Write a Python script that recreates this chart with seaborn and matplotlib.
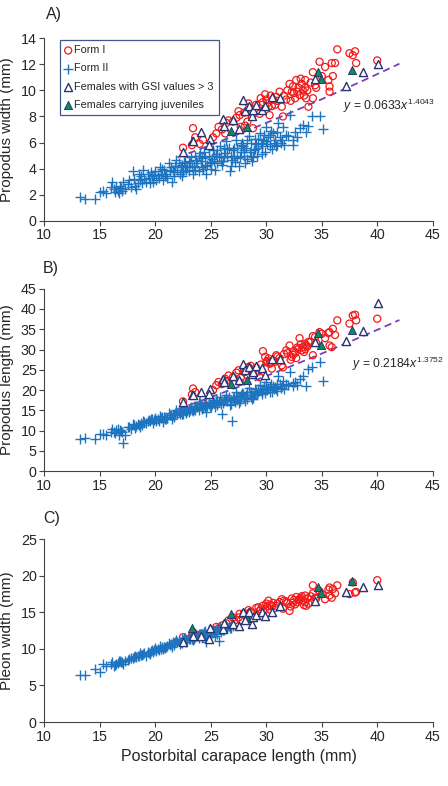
import numpy as np
import pandas as pd
import matplotlib
matplotlib.use("Agg")
import matplotlib.pyplot as plt
import seaborn as sns

nan = np.nan

# Form II males: postorbital carapace length, propodus width (A), propodus length (B), pleon width (C)
form2_x = [13.2, 13.7, 14.6, 15.0, 15.3, 16.1, 16.4, 16.5, 16.7, 17.1, 17.3, 18.0, 18.2, 18.3, 18.9,
           18.6, 19.2, 19.7, 19.8, 20.0, 20.3, 20.4, 20.7, 21.0, 21.2, 21.5, 21.6, 21.9, 22.2, 22.4,
           22.7, 22.8, 23.1, 23.4, 23.7, 24.0, 24.2, 24.5, 24.6, 24.9, 25.2, 25.4, 25.7, 25.8, 26.0,
           26.3, 26.4, 26.7, 26.9, 27.0, 27.3, 27.6, 27.9, 28.1, 28.4, 28.5, 28.8, 29.1, 29.4, 29.7,
           29.9, 30.0, 30.3, 30.6, 30.9, 31.1, 31.2, 31.5, 31.8, 32.1, 32.4, 32.4, 33.0, 33.3, 33.6,
           33.8, 34.1, 34.8, 35.1,
           16.3, 16.6, 16.9, 17.5, 17.8, 18.1, 18.4, 18.7, 19.0, 19.3, 19.5, 19.9, 20.1, 20.5, 20.8,
           21.1, 21.3, 21.7, 21.8, 22.0, 22.3, 22.5, 22.6, 22.9, 23.0, 23.2, 23.5, 23.6, 23.8, 23.9,
           24.1, 24.3, 24.4, 24.7, 24.8, 25.0, 25.1, 25.3, 25.5, 25.6, 25.9, 26.1, 26.2, 26.5, 26.6,
           26.8, 27.1, 27.2, 27.4, 27.5, 27.7, 27.8, 28.0, 28.2, 28.3, 28.6, 28.7, 28.9, 29.0, 29.2,
           29.3, 29.5, 29.6, 29.8, 30.1, 30.2, 30.4, 30.5, 30.8, 31.0, 31.3, 31.6, 32.0, 32.6, 32.8,
           19.4, 19.6, 20.2, 20.6, 20.9, 21.4, 21.7, 22.1, 22.4, 22.7, 23.0, 23.3, 23.6, 23.9, 24.2,
           24.5, 24.8, 25.0, 25.3, 25.6, 25.9, 26.2, 26.5, 26.8, 27.1, 27.4, 27.7, 28.0, 28.3, 28.6,
           29.0, 29.3, 29.6, 30.0, 30.3, 30.7, 31.0, 31.4, 15.6, 16.0, 16.8, 17.0, 17.6, 18.5, 18.8]
form2_a = [1.8, 1.7, 1.7, 2.2, 2.3, 3.0, 2.2, 2.6, 2.1, 3.0, 2.4, 3.8, 2.7, 2.4, 3.9,
           3.1, 3.0, 3.4, 3.0, 3.8, 3.25, 4.1, 3.1, 3.6, 4.4, 3.0, 3.9, 4.65, 3.6, 4.3,
           5.0, 3.9, 4.4, 3.6, 4.65, 5.2, 4.1, 4.9, 3.6, 4.4, 5.4, 3.9, 4.9, 5.7, 4.3,
           5.2, 6.1, 3.8, 4.65, 5.4, 6.2, 4.9, 5.7, 4.4, 6.5, 5.3, 4.9, 5.9, 6.7, 6.2,
           5.3, 7.2, 5.7, 6.7, 5.7, 7.5, 6.45, 7.2, 6.6, 8.1, 6.2, 5.8, 7.1, 7.35, 6.8,
           7.3, 8.0, 8.0, 7.0,
           2.4, 2.3, 2.5, 2.8, 2.6, 3.2, 2.9, 3.4, 3.2, 3.6, 2.9, 3.5, 3.1, 3.6, 3.9,
           3.3, 3.8, 3.4, 4.2, 3.9, 4.1, 3.7, 4.5, 4.2, 3.8, 4.9, 4.2, 3.9, 4.4, 5.0,
           4.6, 4.0, 5.3, 4.3, 5.0, 4.0, 4.7, 4.6, 5.1, 4.4, 5.0, 4.6, 5.6, 4.9, 5.6,
           4.2, 5.0, 4.5, 5.6, 4.2, 5.3, 6.0, 5.0, 5.6, 4.7, 6.0, 4.6, 5.4, 6.3, 5.0,
           5.6, 6.0, 5.1, 6.6, 5.9, 6.4, 6.9, 5.5, 6.2, 5.8, 6.0, 5.8, 6.5, 6.8, 6.4,
           3.3, 3.7, 3.5, 4.0, 3.4, 4.1, 3.7, 4.4, 3.4, 4.1, 4.6, 4.1, 5.0, 3.8, 4.8,
           4.2, 5.6, 4.5, 5.0, 5.4, 4.6, 4.9, 5.5, 5.0, 5.6, 4.8, 5.8, 5.4, 6.2, 5.0,
           5.5, 6.3, 5.7, 6.1, 6.6, 6.0, 6.8, 6.2, 2.1, 2.6, 2.7, 2.3, 3.1, 3.6, 2.9]
form2_b = [8.0, 8.1, 8.0, 9.2, 9.3, 10.3, 9.5, 10.1, 9.0, 7.0, 8.9, 11.6, 10.6, 11.2, 12.5,
           11.0, 12.0, 12.8, 11.8, 13.2, 12.5, 13.6, 12.2, 13.0, 14.3, 12.9, 13.9, 15.1, 14.0, 15.0,
           15.6, 14.3, 15.2, 14.8, 16.2, 16.9, 15.3, 16.6, 14.5, 16.1, 17.5, 15.8, 17.0, 18.2, 14.0,
           17.6, 18.9, 16.4, 12.3, 18.1, 19.6, 17.4, 19.0, 17.2, 20.6, 18.7, 18.1, 19.8, 21.3, 20.4,
           19.2, 22.0, 19.6, 21.0, 20.2, 23.4, 21.5, 22.2, 21.6, 24.4, 21.8, 20.9, 22.8, 23.5, 21.0,
           25.2, 25.8, 26.9, 22.2,
           9.8, 10.4, 9.9, 10.8, 10.5, 11.3, 11.7, 11.9, 12.1, 12.4, 12.3, 12.7, 12.4, 13.1, 13.4,
           13.1, 13.8, 13.5, 14.4, 14.2, 14.6, 14.1, 15.2, 14.8, 14.6, 15.8, 15.4, 15.0, 15.9, 16.5,
           16.0, 15.6, 16.8, 16.0, 16.7, 15.9, 16.5, 16.9, 17.2, 16.4, 17.3, 16.8, 17.9, 17.3, 18.3,
           16.6, 17.8, 17.0, 18.6, 16.9, 18.3, 19.3, 18.0, 18.9, 17.7, 19.6, 17.9, 18.8, 20.2, 18.9,
           19.5, 20.1, 19.0, 20.9, 20.0, 20.6, 21.4, 19.6, 20.7, 19.9, 20.6, 20.3, 21.3, 22.1, 21.2,
           12.6, 12.9, 12.9, 13.5, 13.0, 13.9, 13.8, 14.6, 14.2, 14.9, 15.4, 15.0, 16.1, 15.2, 16.2,
           15.8, 17.1, 16.3, 16.8, 17.6, 16.6, 17.2, 17.9, 17.5, 18.4, 17.6, 18.8, 18.4, 19.6, 18.3,
           19.2, 20.3, 19.6, 20.2, 20.8, 20.4, 21.4, 20.9, 9.0, 9.6, 10.2, 9.7, 11.0, 11.5, 11.3]
form2_c = [6.4, 6.5, 7.3, 6.9, 7.9, 8.2, 7.8, 8.0, 8.3, 8.0, 8.4, 8.8, 9.0, 8.9, 9.3,
           9.5, 9.1, 9.8, 9.6, 10.1, 9.9, 10.4, 10.0, 10.3, 10.8, 10.2, 10.9, 11.2, 10.7, 11.3,
           11.5, 11.0, 11.4, 11.2, 11.9, 12.1, 11.6, 12.4, 11.0, 12.2, 12.6, 11.8, 11.1, 13.0, 12.7,
           12.9, 13.3, 12.8, nan, 13.2, nan, nan, nan, nan, nan, nan, nan, nan, nan, nan,
           nan, nan, nan, nan, nan, nan, nan, nan, nan, nan, nan, nan, nan, nan, nan,
           nan, nan, nan, nan,
           7.6, 8.1, 8.2, 8.5, 8.7, 8.9, 9.1, 9.2, 9.4, 9.6, 9.3, 9.9, 9.7, 10.0, 10.3,
           10.4, 10.6, 10.5, 10.9, 11.0, 10.9, 11.2, 11.5, 11.2, 11.3, 11.7, 11.4, 11.6, 11.8, 12.0,
           12.0, 11.7, 12.3, 11.9, 12.4, 11.6, 12.5, 12.3, 12.5, 12.1, 12.7, 12.6, 13.0, 12.8, 13.1,
           12.9, nan, nan, nan, nan, nan, nan, nan, nan, nan, nan, nan, nan, nan, nan,
           nan, nan, nan, nan, nan, nan, nan, nan, nan, nan, nan, nan, nan, nan, nan,
           9.5, 9.7, 10.0, 10.2, 10.1, 10.7, 10.8, 11.1, 10.8, 11.2, 11.5, 11.3, 11.9, 11.5, 12.0,
           11.8, 12.6, 12.2, 12.4, 12.8, 12.3, 12.6, 13.0, nan, nan, nan, nan, nan, nan, nan,
           nan, nan, nan, nan, nan, nan, nan, nan, 7.7, 7.9, 8.4, 8.2, 8.6, 9.0, 9.2]

# Form I males
form1_x = [22.5, 23.3, 23.4, 23.6, 24.0, 24.3, 25.2, 25.5, 25.7, 26.0, 26.3, 26.4, 26.6, 27.5, 27.6,
           27.7, 28.1, 28.4, 28.7, 28.8, 29.3, 29.4, 29.7, 29.9, 30.0, 30.2, 30.3, 30.5, 30.6, 30.9,
           31.2, 31.4, 31.5, 31.8, 32.1, 32.3, 32.4, 32.6, 32.7, 32.9, 33.0, 33.2, 33.3, 33.4, 33.5,
           33.5, 33.6, 33.8, 34.2, 34.2, 34.4, 34.5, 34.8, 35.0, 35.3, 35.6, 35.7, 35.7, 35.9, 36.0,
           36.2, 36.4, 37.5, 37.8, 38.0, 38.1, 40.0,
           29.1, 29.5, 30.1, 30.4, 30.8, 31.0, 31.6, 31.9, 32.2, 32.5, 32.8, 33.1, 33.7, 34.0, 27.0,
           27.3, 28.0, 28.3, 28.6]
form1_a = [5.6, 5.8, 7.1, 6.4, 5.9, 6.2, 6.4, 6.7, 7.2, 7.0, 6.7, 7.5, 7.7, 8.4, 8.1,
           7.2, 7.3, 9.0, 8.0, 7.1, 8.5, 8.2, 9.1, 9.7, 9.3, 8.75, 8.1, 8.8, 9.3, 9.5,
           9.9, 8.75, 8.0, 9.3, 10.5, 9.9, 10.3, 9.4, 10.8, 10.2, 9.65, 10.5, 10.0, 9.6, 10.8,
           10.2, 9.4, 8.75, 9.4, 11.4, 10.4, 10.2, 12.2, 11.1, 11.8, 10.8, 10.3, 9.9, 12.1, 11.1,
           12.1, 13.15, 12.85, 12.7, 13.0, 12.1, 12.3,
           8.9, 9.4, 9.0, 9.6, 8.9, 9.2, 9.6, 10.0, 9.2, 9.8, 9.9, 10.9, 10.0, 10.6, 7.6,
           7.9, 8.3, 7.6, 8.6]
form1_b = [17.2, 18.9, 20.4, 19.5, 16.3, 17.7, 20.0, 21.2, 22.0, 21.5, 22.8, 22.3, 23.6, 24.9, 22.0,
           23.0, 24.5, 25.7, 25.0, 24.0, 24.6, 23.2, 29.6, 28.2, 26.9, 27.8, 26.5, 25.3, 27.3, 28.6,
           27.9, 26.1, 25.6, 29.8, 31.0, 28.2, 28.7, 29.2, 27.9, 30.2, 32.8, 29.8, 30.6, 29.4, 30.1,
           31.4, 31.0, 31.9, 28.6, 33.3, 33.1, 31.6, 34.3, 33.9, 32.8, 34.1, 34.3, 31.0, 30.6, 35.1,
           33.6, 37.2, 36.4, 38.4, 38.6, 37.2, 37.6,
           25.5, 26.3, 27.2, 26.7, 27.0, 28.3, 28.9, 29.1, 27.5, 29.6, 30.5, 31.3, 30.8, 31.9, 23.2,
           24.3, 24.8, 23.7, 26.0]
form1_c = [11.6, 11.8, 12.3, 12.0, 11.9, 12.1, 12.6, 13.0, 12.8, 13.2, 12.9, 13.5, 13.9, 14.3, 14.8,
           13.9, 14.6, 15.3, 15.0, 14.4, 15.7, 15.2, 15.9, 15.5, 16.2, 16.6, 15.4, 15.8, 16.3, 15.9,
           16.4, 16.8, 15.5, 16.5, 15.2, 16.9, 16.3, 16.1, 17.1, 16.7, 16.8, 17.2, 16.6, 16.0, 17.3,
           16.4, 15.9, 16.2, 18.7, 17.6, 17.0, 16.9, 17.9, 17.5, 16.8, 18.1, 18.4, 17.3, 17.0, 18.2,
           17.6, 18.7, 17.5, 19.1, 17.7, 17.8, 19.4,
           15.6, 15.4, 15.9, 16.0, 15.6, 16.2, 16.6, 16.3, 15.8, 16.7, 16.4, 17.0, 16.9, 17.2, 14.3,
           14.0, 14.9, 14.7, 15.1]

# Females with GSI values > 3
gsi_x = [22.5, 23.4, 24.1, 24.9, 24.8, 26.1, 26.2, 27.0, 27.5, 27.9, 28.1, 28.4, 28.7, 28.8,
         29.1, 29.6, 29.9, 30.5, 31.2, 34.4, 37.2, 38.7, 40.1]
gsi_a = [5.3, 6.1, 6.8, 6.3, 5.8, 7.8, 7.3, 7.7, 7.0, 9.3, 8.4, 8.8, 8.0, 8.5,
         8.9, 8.5, 8.8, 9.5, 9.4, 10.9, 10.3, 11.4, 12.0]
gsi_b = [17.1, 18.7, 19.5, 20.3, 19.1, 22.8, 22.0, 23.6, 22.5, 26.5, 24.9, 25.7, 24.0, 24.5,
         25.9, 25.5, 23.8, 27.7, 27.7, 31.9, 32.0, 34.5, 41.5]
gsi_c = [10.9, 11.7, 11.8, 12.9, 11.4, 12.7, 13.6, 13.4, 13.2, 15.0, 13.9, 15.0, 13.4, 14.3,
         14.6, 15.0, 14.5, 15.0, 15.9, 16.5, 17.8, 18.5, 18.75]

# Females carrying juveniles
juv_x = [23.3, 26.8, 28.3, 34.7, 34.9, 37.7]
juv_a = [6.1, 6.9, 7.2, 11.4, 10.9, 11.6]
juv_b = [18.7, 21.6, 22.4, 34.1, 31.2, 34.7]
juv_c = [12.9, 14.8, 14.2, 18.5, 17.7, 19.25]

# power fits shown on the chart (coefficient, exponent)
fit_a = (0.0633, 1.4043)
fit_b = (0.2184, 1.3752)

sns.set_theme(style="ticks")
plt.rcParams['font.family'] = ['Liberation Sans', 'DejaVu Sans']
plt.rcParams['mathtext.fontset'] = 'custom'
plt.rcParams['mathtext.rm'] = 'Liberation Sans'
plt.rcParams['mathtext.it'] = 'Liberation Sans:italic'

RED = '#f21a1a'
BLUE = '#1f74c0'
NAVY = '#2b3571'
GREEN = '#0e8a5c'
PURPLE = '#7a3fb8'

fig = plt.figure(figsize=(4.48, 7.86), dpi=100)
ax_a = fig.add_axes([0.0989, 0.7192, 0.867, 0.2321])
ax_b = fig.add_axes([0.0989, 0.4004, 0.867, 0.2323])
ax_c = fig.add_axes([0.0989, 0.0814, 0.867, 0.2325])


def draw_panel(ax, f1, f2, gsi, juv, fit, ymax, ystep, ylabel):
    df1 = pd.DataFrame({'x': form1_x, 'y': f1})
    df2 = pd.DataFrame({'x': form2_x, 'y': f2}).dropna()
    dg = pd.DataFrame({'x': gsi_x, 'y': gsi})
    dj = pd.DataFrame({'x': juv_x, 'y': juv})

    if fit is not None:
        xs = np.linspace(22, 42, 50)
        ax.plot(xs, fit[0] * xs ** fit[1], color=PURPLE, ls=(0, (4, 2.5)), lw=1.3, zorder=1)

    sns.scatterplot(data=df1, x='x', y='y', ax=ax, marker='o', s=26, facecolor='none',
                    edgecolor=RED, linewidth=0.9, label='Form I', zorder=2)
    sns.scatterplot(data=df2, x='x', y='y', ax=ax, marker='+', s=42, color=BLUE,
                    linewidth=1.0, label='Form II', zorder=3)
    sns.scatterplot(data=dj, x='x', y='y', ax=ax, marker='^', s=34, color=GREEN,
                    edgecolor=NAVY, linewidth=0.7, label='Females carrying juveniles', zorder=4)
    sns.scatterplot(data=dg, x='x', y='y', ax=ax, marker='^', s=34, facecolor='white',
                    edgecolor=NAVY, linewidth=1.0, label='Females with GSI values > 3', zorder=5)

    ax.set_xlim(10, 45)
    ax.set_ylim(0, ymax)
    ax.set_xticks(np.arange(10, 46, 5))
    ax.set_yticks(np.arange(0, ymax + 0.1, ystep))
    ax.set_xlabel('')
    ax.set_ylabel(ylabel, fontsize=11)
    ax.yaxis.set_label_coords(-0.077, 0.5)
    ax.tick_params(labelsize=10.3, length=3.5, width=0.8, color='#444444', pad=2)
    for side in ['left', 'bottom']:
        ax.spines[side].set_color('#444444')
        ax.spines[side].set_linewidth(0.8)
    sns.despine(ax=ax)
    ax.get_legend().remove()


draw_panel(ax_a, form1_a, form2_a, gsi_a, juv_a, fit_a, 14, 2, 'Propodus width (mm)')
draw_panel(ax_b, form1_b, form2_b, gsi_b, juv_b, fit_b, 45, 5, 'Propodus length (mm)')
draw_panel(ax_c, form1_c, form2_c, gsi_c, juv_c, None, 25, 5, 'Pleon width (mm)')
ax_c.set_xlabel('Postorbital carapace length (mm)', fontsize=11.5, labelpad=4)

# legend in panel A, in the chart's order
handles, labels = ax_a.get_legend_handles_labels()
order = [labels.index(l) for l in ['Form I', 'Form II', 'Females with GSI values > 3',
                                    'Females carrying juveniles']]
leg = ax_a.legend([handles[i] for i in order], [labels[i] for i in order],
                  loc='upper left', bbox_to_anchor=(0.035, 1.0), fontsize=7.8,
                  frameon=True, fancybox=False, framealpha=1, edgecolor='#3d5a8a',
                  handlelength=0.6, handletextpad=0.25, labelspacing=0.75,
                  borderpad=0.45, borderaxespad=0.2)
leg.get_frame().set_linewidth(0.9)

ax_a.text(36.9, 8.8, r'$\mathit{y}$ = 0.0633$\mathit{x}^{\mathrm{1.4043}}$', fontsize=8.7, va='center')
ax_b.text(37.7, 26.4, r'$\mathit{y}$ = 0.2184$\mathit{x}^{\mathrm{1.3752}}$', fontsize=8.7, va='center')

fig.text(0.103, 0.981, 'A)', fontsize=11.5, va='center')
fig.text(0.096, 0.659, 'B)', fontsize=11.5, va='center')
fig.text(0.096, 0.340, 'C)', fontsize=11.5, va='center')

fig.savefig('out.png', dpi=100)
